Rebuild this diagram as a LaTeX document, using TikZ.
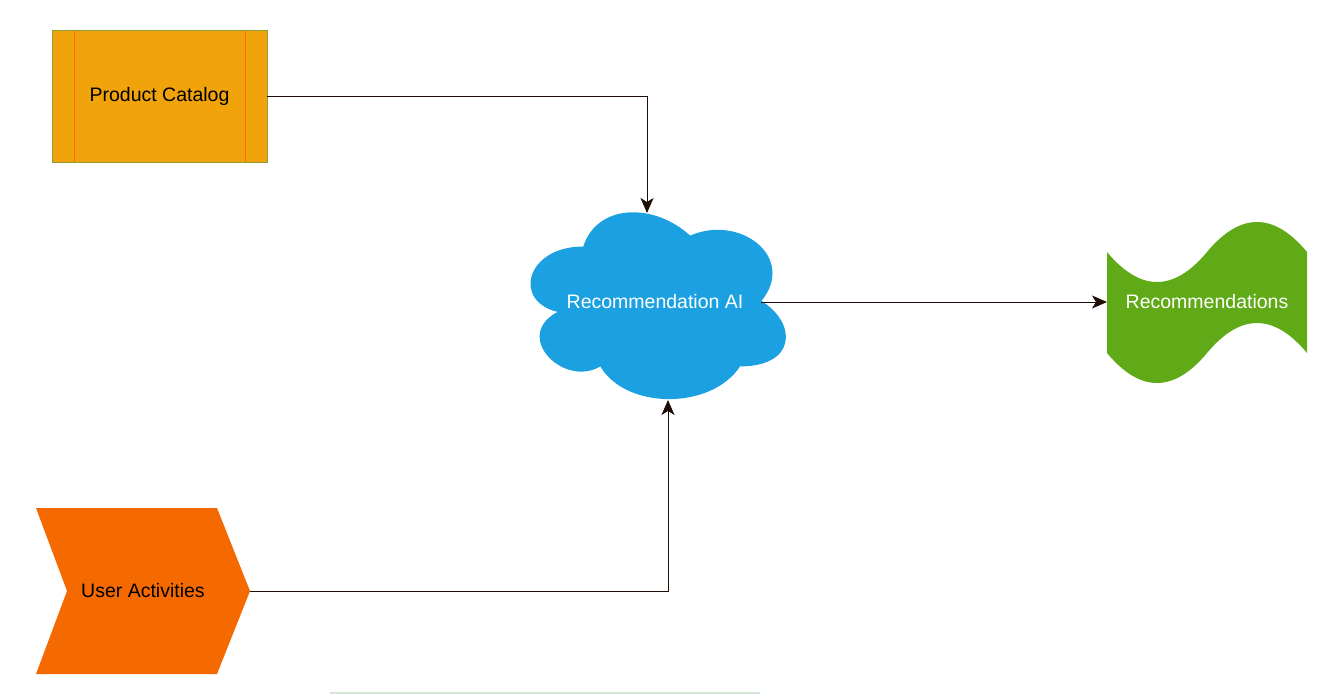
\documentclass[tikz,border=0pt]{standalone}
\usepackage{fontspec}
\setmainfont{Liberation Sans}
\usetikzlibrary{arrows.meta}
\definecolor{amber}{HTML}{F0A30A}
\definecolor{amberline}{HTML}{FF6A1A}
\definecolor{amberborder}{HTML}{8FA030}
\definecolor{cloudblue}{HTML}{1BA1E2}
\definecolor{actorange}{HTML}{F56A00}
\definecolor{recgreen}{HTML}{60A917}
\definecolor{edgecol}{HTML}{1E0E08}
\definecolor{faint}{HTML}{D5E8D4}
\tikzset{
  lbl/.style={font=\fontsize{19.5}{22}\selectfont, inner sep=0pt},
  conn/.style={draw=edgecol, line width=1pt, -{Stealth[length=15pt,width=13pt,inset=4pt]}},
}
\begin{document}
\begin{tikzpicture}[x=1pt,y=-1pt]
\useasboundingbox (0,0) rectangle (1333,697);
% Product Catalog
\fill[amber] (52,30) rectangle (267,162);
\draw[amberborder, line width=0.6pt] (52,30) rectangle (267,162);
\draw[amberline, line width=0.8pt] (74,30) -- (74,162) (245,30) -- (245,162);
\node[lbl, text=black] (pc) at (159.5,96) {Product Catalog};
\coordinate (pcE) at (267,96);
% Cloud
\begin{scope}[shift={(512,192)}, x=285pt, y=-218pt]
\fill[cloudblue] (0.25,0.25)
  .. controls (0.05,0.25) and (0,0.5) .. (0.16,0.55)
  .. controls (0,0.66) and (0.18,0.9) .. (0.31,0.8)
  .. controls (0.4,1) and (0.7,1) .. (0.8,0.8)
  .. controls (1,0.8) and (1,0.6) .. (0.875,0.5)
  .. controls (1,0.3) and (0.8,0.1) .. (0.625,0.2)
  .. controls (0.5,0.05) and (0.3,0.05) .. (0.25,0.25) -- cycle;
\end{scope}
\node[lbl, text=white] (ai) at (655,302) {Recommendation AI};
\coordinate (aiTop) at (647,213);
\coordinate (aiBot) at (668,400);
\coordinate (aiE) at (761,302);
% Recommendations (tape)
\fill[recgreen] (1107,252)
  .. controls (1140.3,292) and (1173.7,292) .. (1207,252)
  .. controls (1240.3,212) and (1273.7,212) .. (1307,252)
  -- (1307,353)
  .. controls (1273.7,313) and (1240.3,313) .. (1207,353)
  .. controls (1173.7,393) and (1140.3,393) .. (1107,353) -- cycle;
\node[lbl, text=white] (rec) at (1207,302) {Recommendations};
\coordinate (recW) at (1107,302);
% User Activities (chevron)
\fill[actorange] (36,508) -- (217,508) -- (250,591) -- (217,674) -- (36,674) -- (67,591) -- cycle;
\node[lbl, text=black] (ua) at (143,591) {User Activities};
\coordinate (uaE) at (250,591);
% faint line at bottom
\draw[faint, line width=2pt] (330,693) -- (760,693);
% connectors
\draw[conn] (pcE) -| (aiTop);
\draw[conn] (uaE) -| (aiBot);
\draw[conn] (aiE) -- (recW);
\end{tikzpicture}
\end{document}
